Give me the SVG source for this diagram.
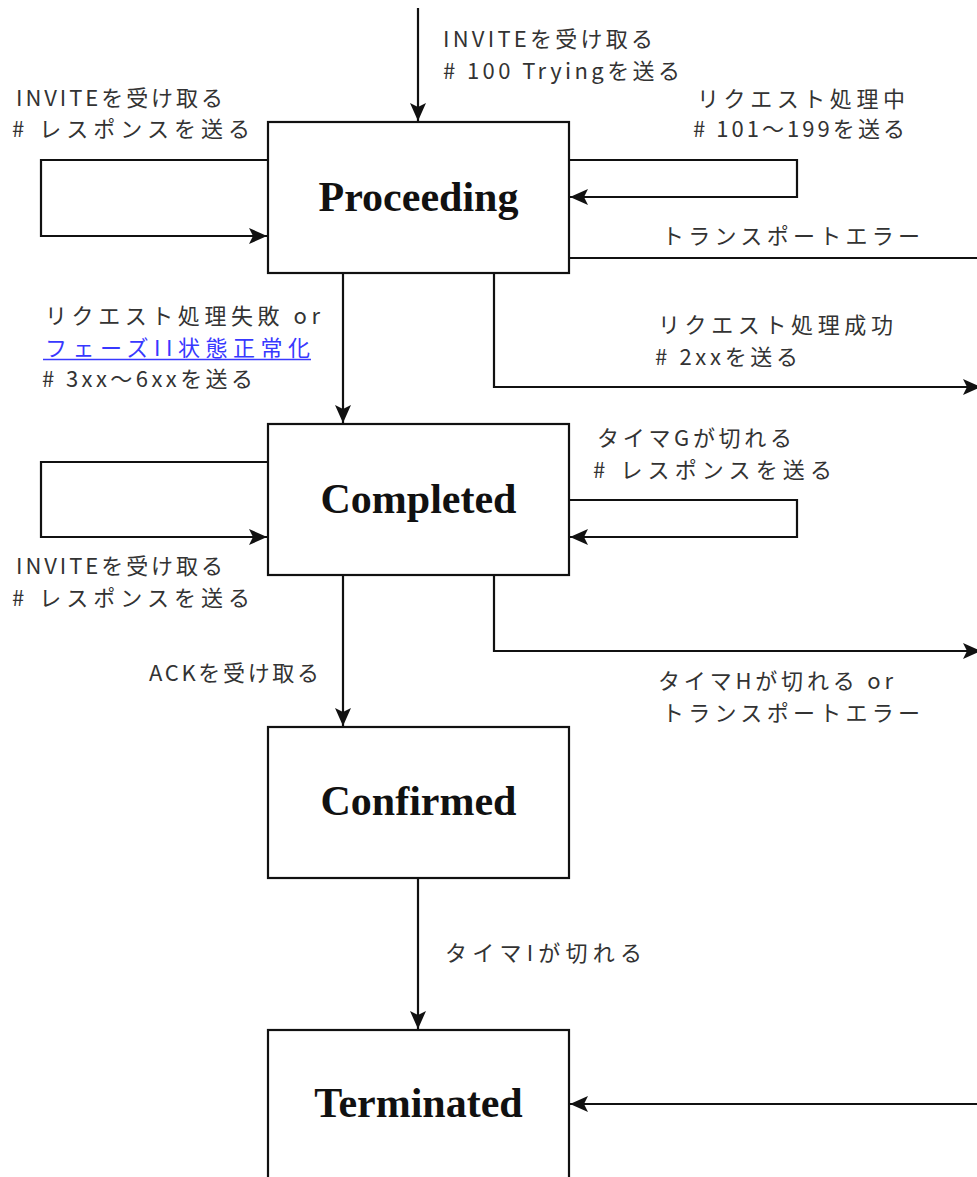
<svg xmlns="http://www.w3.org/2000/svg" width="977" height="1177" viewBox="0 0 977 1177">
<style>
.box{fill:#fff;stroke:#111;stroke-width:2.2}
.st{font-family:"Liberation Serif","Times New Roman",serif;font-weight:bold;font-size:42px;fill:#111;text-anchor:middle}
.lb{font-family:"Noto Sans CJK JP",sans-serif;font-size:22px;fill:#333}
.lk{fill:#3838ff}
.cn{fill:none;stroke:#111;stroke-width:2.2}
</style>
<defs>
<marker id="ah" markerUnits="userSpaceOnUse" markerWidth="20" markerHeight="18" refX="18" refY="8" orient="auto">
<path d="M0,0 L18,8 L0,16 L4,8 z" fill="#111"/>
</marker>
</defs>
<rect width="977" height="1177" fill="#fff"/>
<g id="connectors">
<path class="cn" d="M418,8 V121" marker-end="url(#ah)"/>
<path class="cn" d="M268,160 H41 V236 H267" marker-end="url(#ah)"/>
<path class="cn" d="M569,160 H797 V197 H570" marker-end="url(#ah)"/>
<path class="cn" d="M569,258 H977"/>
<path class="cn" d="M343,273 V423" marker-end="url(#ah)"/>
<path class="cn" d="M494,273 V387 H981" marker-end="url(#ah)"/>
<path class="cn" d="M268,462 H41 V537 H267" marker-end="url(#ah)"/>
<path class="cn" d="M569,500 H797 V537 H570" marker-end="url(#ah)"/>
<path class="cn" d="M343,575 V726" marker-end="url(#ah)"/>
<path class="cn" d="M494,575 V651 H981" marker-end="url(#ah)"/>
<path class="cn" d="M418,877 V1029" marker-end="url(#ah)"/>
<path class="cn" d="M977,1104 H570" marker-end="url(#ah)"/>
</g>
<g id="proceeding">
<rect class="box" x="268" y="122" width="301" height="151"/>
<text class="st" x="418.5" y="211">Proceeding</text>
</g>
<g id="completed">
<rect class="box" x="268" y="424" width="301" height="151"/>
<text class="st" x="418.5" y="513">Completed</text>
</g>
<g id="confirmed">
<rect class="box" x="268" y="727" width="301" height="151"/>
<text class="st" x="418.5" y="815">Confirmed</text>
</g>
<g id="terminated">
<rect class="box" x="268" y="1030" width="301" height="170"/>
<text class="st" x="418.5" y="1117">Terminated</text>
</g>
<g id="labels">
<text class="lb" x="443" y="47" textLength="210" lengthAdjust="spacing">INVITEを受け取る</text>
<text class="lb" x="443" y="79" textLength="237" lengthAdjust="spacing"># 100 Tryingを送る</text>
<text class="lb" x="16" y="106" textLength="207" lengthAdjust="spacing">INVITEを受け取る</text>
<text class="lb" x="12" y="137" textLength="238" lengthAdjust="spacing"># レスポンスを送る</text>
<text class="lb" x="697" y="107" textLength="208" lengthAdjust="spacing">リクエスト処理中</text>
<text class="lb" x="693" y="137" textLength="212" lengthAdjust="spacing"># 101〜199を送る</text>
<text class="lb" x="662" y="244" textLength="258" lengthAdjust="spacing">トランスポートエラー</text>
<text class="lb" x="45" y="324" textLength="275" lengthAdjust="spacing">リクエスト処理失敗 or</text>
<text class="lb lk" x="45" y="356" textLength="265" lengthAdjust="spacing">フェーズII状態正常化</text>
<line x1="43" y1="359.5" x2="311" y2="359.5" stroke="#3838ff" stroke-width="1.5"/>
<text class="lb" x="42" y="387" textLength="211" lengthAdjust="spacing"># 3xx〜6xxを送る</text>
<text class="lb" x="658" y="333" textLength="235" lengthAdjust="spacing">リクエスト処理成功</text>
<text class="lb" x="655" y="365" textLength="143" lengthAdjust="spacing"># 2xxを送る</text>
<text class="lb" x="597" y="446" textLength="195" lengthAdjust="spacing">タイマGが切れる</text>
<text class="lb" x="593" y="478" textLength="239" lengthAdjust="spacing"># レスポンスを送る</text>
<text class="lb" x="16" y="574" textLength="207" lengthAdjust="spacing">INVITEを受け取る</text>
<text class="lb" x="12" y="606" textLength="238" lengthAdjust="spacing"># レスポンスを送る</text>
<text class="lb" x="658" y="689" textLength="235" lengthAdjust="spacing">タイマHが切れる or</text>
<text class="lb" x="662" y="721" textLength="258" lengthAdjust="spacing">トランスポートエラー</text>
<text class="lb" x="149" y="681" textLength="170" lengthAdjust="spacing">ACKを受け取る</text>
<text class="lb" x="445" y="961" textLength="197" lengthAdjust="spacing">タイマIが切れる</text>
</g>
</svg>
